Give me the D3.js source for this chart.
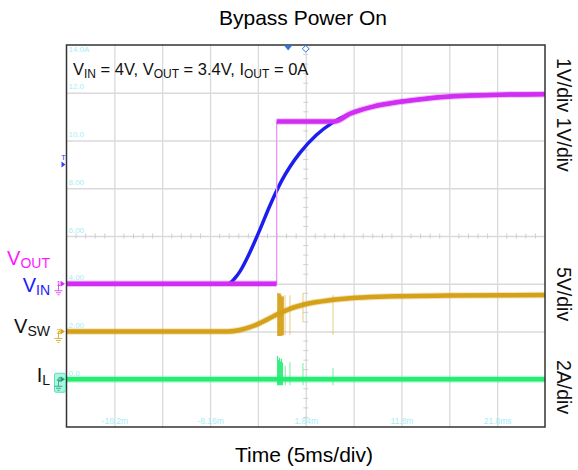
<!DOCTYPE html>
<html>
<head>
<meta charset="utf-8">
<script src="https://cdn.jsdelivr.net/npm/d3@7"></script>
<style>
    body { margin: 0; background: #fff; }
    svg { display: block; }
    text { font-family: Arial, "Liberation Sans", sans-serif; }
</style>
</head>
<body>
<div id="scope"></div>
<script>
// time axis: 5 ms/div, screen centre at 1.84 ms
var timeTicks = [-18.16, -8.16, 1.84, 11.84, 21.84];
var timeTickLabels = ['-18.2m', '-8.16m', '1.84m', '11.8m', '21.8ms'];
// ch4 (2A/div) scale printed on the gridlines
var ampTicks = [0, 2, 4, 6, 8, 10, 12, 14];
var ampTickLabels = ['0.0', '2.00', '4.00', '6.00', '8.00', '10.0', '12.0', '14.0A'];

// VIN, 1V/div
var vinTime = [-23.16, -6.28, -5.55, -5.03, -3.99, -2.94, -1.90, -0.67, 0.19, 1.23, 2.98, 4.69, 6.46, 8.87, 11.69, 14.1, 16.9, 22.1, 26.84];
var vinVolts = [0, 0, 0.12, 0.26, 0.66, 1.14, 1.64, 2.16, 2.45, 2.74, 3.12, 3.38, 3.56, 3.71, 3.81, 3.87, 3.92, 3.96, 3.97];

// VOUT, 1V/div (the step at -1.2 ms is drawn thin)
var voutTime = [-23.16, -1.2, -1.2, 4.9, 6.46, 8.87, 11.69, 14.1, 16.9, 22.1, 26.84];
var voutVolts = [0, 0, 3.4, 3.4, 3.56, 3.71, 3.81, 3.87, 3.92, 3.96, 3.97];

// VSW, 5V/div
var vswTime = [-23.16, -6.28, -5.03, -3.99, -3.12, -2.10, -1.03, 0.19, 1.58, 3.33, 6.46, 9.60, 11.69, 16.9, 26.84];
var vswVolts = [0, 0, 0.16, 0.45, 0.80, 1.30, 1.85, 2.38, 2.80, 3.13, 3.48, 3.64, 3.69, 3.76, 3.82];
var vswSpikeTime = [-1.06, -0.95, -0.85, -0.74, -0.64, -0.53, -0.32, 0.19, 1.55, 4.69];
var vswSpikeLow = [-0.47, -0.47, -0.45, -0.47, -0.42, -0.40, -0.37, -0.37, 0.99, -0.37];
var vswSpikeHigh = [4.03, 3.9, 4.0, 3.8, 3.6, 3.7, 3.82, 3.8, 4.03, 3.82];

// IL, 2A/div
var ilTime = [-23.16, 26.84];
var ilAmps = [0, 0];
var ilSpikeTime = [-1.1, -1.0, -0.9, -0.8, -0.7, -0.6, -0.3, 0.19, 1.55, 4.69];
var ilSpikeHigh = [0.97, 0.8, 0.9, 0.75, 0.85, 0.7, 0.55, 0.72, 0.68, 0.47];

var margin = {top: 45, right: 33, bottom: 43, left: 66.5};

var svg = d3.select('#scope')
    .append('svg')
    .attr('width', 578)
    .attr('height', 470);

var width = +svg.attr('width') - margin.left - margin.right,
    height = +svg.attr('height') - margin.top - margin.bottom;

var g = svg.append('g')
    .attr('transform', 'translate(' + margin.left + ',' + margin.top + ')');

var x = d3.scaleLinear().domain([-23.16, 26.84]).range([0, width]);
var xDiv = d3.scaleLinear().domain([0, 10]).range([0, width]);
var yDiv = d3.scaleLinear().domain([0, 8]).range([height, 0]);
// channel scales, ground position in divisions from the bottom
var yVolt1 = d3.scaleLinear().domain([-3, 5]).range([height, 0]);
var yVolt5 = d3.scaleLinear().domain([-10, 30]).range([height, 0]);
var yAmp = d3.scaleLinear().domain([-2, 14]).range([height, 0]);

var gridColor = '#dadada';

// grid
g.append('g')
    .attr('class', 'grid grid-x')
    .attr('transform', 'translate(0,' + height + ')')
    .call(d3.axisBottom(xDiv).tickValues(d3.range(1, 10)).tickSize(-height).tickFormat(''));
g.append('g')
    .attr('class', 'grid grid-y')
    .call(d3.axisLeft(yDiv).tickValues(d3.range(1, 8)).tickSize(-width).tickFormat(''));
g.selectAll('.grid .domain').remove();
g.selectAll('.grid line').attr('stroke', gridColor).attr('stroke-width', 1.3);

// minor ticks on the centre lines
var minor = g.append('g').attr('stroke', '#cfcfcf').attr('stroke-width', 1);
minor.selectAll('.mx')
    .data(d3.range(1, 50).filter(function (d) { return d % 5; }))
    .enter().append('line')
    .attr('x1', function (d) { return xDiv(d / 5); })
    .attr('x2', function (d) { return xDiv(d / 5); })
    .attr('y1', yDiv(4) - 2.5)
    .attr('y2', yDiv(4) + 2.5);
minor.selectAll('.my')
    .data(d3.range(1, 40).filter(function (d) { return d % 5; }))
    .enter().append('line')
    .attr('y1', function (d) { return yDiv(d / 5); })
    .attr('y2', function (d) { return yDiv(d / 5); })
    .attr('x1', xDiv(5) - 2.5)
    .attr('x2', xDiv(5) + 2.5);

// cyan scope readouts
var readout = '#a6eef6';
var tAxis = g.append('g')
    .attr('class', 'axis axis-x')
    .attr('transform', 'translate(0,' + height + ')')
    .call(d3.axisBottom(x).tickValues(timeTicks).tickSize(0).tickFormat(function (d, i) {
        return timeTickLabels[i];
    }));
tAxis.select('.domain').remove();
tAxis.selectAll('text')
    .attr('y', -3)
    .attr('dy', 0)
    .attr('fill', readout)
    .attr('font-family', '"DejaVu Sans Mono", monospace')
    .attr('font-size', 8.5);

var aAxis = g.append('g')
    .attr('class', 'axis axis-y')
    .call(d3.axisRight(yAmp).tickValues(ampTicks).tickSize(0).tickFormat(function (d, i) {
        return ampTickLabels[i];
    }));
aAxis.select('.domain').remove();
aAxis.selectAll('text')
    .attr('x', 2)
    .attr('y', function (d) { return d === 14 ? 6 : -4; })
    .attr('dy', 0)
    .attr('text-anchor', 'start')
    .attr('fill', readout)
    .attr('font-family', '"DejaVu Sans Mono", monospace')
    .attr('font-size', 8);

// traces
function pts(t, v) {
    return t.map(function (d, i) { return [d, v[i]]; });
}

var vin = pts(vinTime, vinVolts);
var vout = pts(voutTime, voutVolts);
var vsw = pts(vswTime, vswVolts);
var il = pts(ilTime, ilAmps);

var lineVin = d3.line().curve(d3.curveMonotoneX)
    .x(function (d) { return x(d[0]); })
    .y(function (d) { return yVolt1(d[1]); });
var lineVsw = d3.line().curve(d3.curveMonotoneX)
    .x(function (d) { return x(d[0]); })
    .y(function (d) { return yVolt5(d[1]); });
var lineIl = d3.line()
    .x(function (d) { return x(d[0]); })
    .y(function (d) { return yAmp(d[1]); });

// IL (faint halo stands in for the noise band)
g.append('path').datum(il)
    .attr('d', lineIl)
    .attr('fill', 'none')
    .attr('stroke', '#25ec73')
    .attr('stroke-opacity', 0.3)
    .attr('stroke-width', 7);
g.append('path').datum(il)
    .attr('d', lineIl)
    .attr('fill', 'none')
    .attr('stroke', '#25ec73')
    .attr('stroke-width', 4.5);
g.append('g').selectAll('line')
    .data(ilSpikeTime)
    .enter().append('line')
    .attr('x1', function (d) { return x(d); })
    .attr('x2', function (d) { return x(d); })
    .attr('y1', yAmp(-0.25))
    .attr('y2', function (d, i) { return yAmp(ilSpikeHigh[i]); })
    .attr('stroke', '#25ec73')
    .attr('stroke-opacity', function (d, i) { return i < 6 ? 0.9 : 0.55; })
    .attr('stroke-width', 1.2);

// VSW
g.append('path').datum(vsw)
    .attr('d', lineVsw)
    .attr('fill', 'none')
    .attr('stroke', '#d5a119')
    .attr('stroke-opacity', 0.3)
    .attr('stroke-width', 6.5);
g.append('path').datum(vsw)
    .attr('d', lineVsw)
    .attr('fill', 'none')
    .attr('stroke', '#d5a119')
    .attr('stroke-width', 4.5);
g.append('g').selectAll('line')
    .data(vswSpikeTime)
    .enter().append('line')
    .attr('x1', function (d) { return x(d); })
    .attr('x2', function (d) { return x(d); })
    .attr('y1', function (d, i) { return yVolt5(vswSpikeLow[i]); })
    .attr('y2', function (d, i) { return yVolt5(vswSpikeHigh[i]); })
    .attr('stroke', '#d5a119')
    .attr('stroke-opacity', function (d, i) { return i < 6 ? 0.85 : 0.45; })
    .attr('stroke-width', function (d, i) { return i < 6 ? 1.8 : 1.2; });

// VIN
g.append('path').datum(vin)
    .attr('d', lineVin)
    .attr('fill', 'none')
    .attr('stroke', '#1d1df0')
    .attr('stroke-width', 3.5);

// VOUT: split at the step, thick segments + thin fast edge
var voutSegs = [[vout[0]]];
vout.slice(1).forEach(function (p, i) {
    if (p[0] === vout[i][0]) {
        g.append('line')
            .attr('x1', x(p[0])).attr('x2', x(p[0]))
            .attr('y1', yVolt1(vout[i][1])).attr('y2', yVolt1(p[1]))
            .attr('stroke', '#e89af8')
            .attr('stroke-width', 1.4);
        voutSegs.push([p]);
    } else {
        voutSegs[voutSegs.length - 1].push(p);
    }
});
var lineVout = d3.line().curve(d3.curveMonotoneX)
    .x(function (d) { return x(d[0]); })
    .y(function (d) { return yVolt1(d[1]); });
g.selectAll('.vout-halo')
    .data(voutSegs)
    .enter().append('path')
    .attr('class', 'vout-halo')
    .attr('d', lineVout)
    .attr('fill', 'none')
    .attr('stroke', '#d22ef3')
    .attr('stroke-opacity', 0.3)
    .attr('stroke-width', 6.5);
g.selectAll('.vout')
    .data(voutSegs)
    .enter().append('path')
    .attr('class', 'vout')
    .attr('d', lineVout)
    .attr('fill', 'none')
    .attr('stroke', '#d22ef3')
    .attr('stroke-width', 4.5);

// frame
g.append('rect')
    .attr('width', width)
    .attr('height', height)
    .attr('fill', 'none')
    .attr('stroke', '#333')
    .attr('stroke-width', 1.5);

// trigger position markers
g.append('path')
    .attr('d', 'M' + (x(0) - 4) + ',0.5 L' + (x(0) + 4) + ',0.5 L' + x(0) + ',5.5 Z')
    .attr('fill', '#2a78e0');
g.append('path')
    .attr('d', 'M' + x(1.84) + ',0.5 L' + (x(1.84) + 3.5) + ',3.8 L' + x(1.84) + ',7 L' + (x(1.84) - 3.5) + ',3.8 Z')
    .attr('fill', '#fff')
    .attr('stroke', '#2a78e0')
    .attr('stroke-width', 1);

// trigger level
var trig = yVolt1(2.5);
g.append('text')
    .attr('x', -3)
    .attr('y', trig - 4)
    .attr('text-anchor', 'middle')
    .attr('font-size', 8)
    .attr('fill', '#3344ee')
    .text('T');
g.append('path')
    .attr('d', 'M-5,' + (trig - 3) + ' L-1,' + trig + ' L-5,' + (trig + 3) + ' Z')
    .attr('fill', '#3344ee');

// channel ground markers
function groundMark(y, label, color, boxed) {
    var m = g.append('g').attr('transform', 'translate(0,' + y + ')');
    if (boxed) {
        m.append('rect')
            .attr('x', -12).attr('y', -6)
            .attr('width', 11).attr('height', 19)
            .attr('rx', 1.5)
            .attr('fill', '#aaf7e0')
            .attr('stroke', '#3fd6b0')
            .attr('stroke-width', 0.8);
    }
    m.append('text')
        .attr('x', -10).attr('y', 2.5)
        .attr('font-size', 8)
        .attr('fill', color)
        .text(label);
    m.append('path')
        .attr('d', 'M-6,-3 L-1.5,0 L-6,3 Z')
        .attr('fill', color);
    m.append('path')
        .attr('d', 'M-8,0 L-8,7 M-12,7 L-4,7 M-10.5,9 L-5.5,9 M-9,11 L-7,11')
        .attr('fill', 'none')
        .attr('stroke', color)
        .attr('stroke-width', 0.8);
}
groundMark(yVolt1(0), '1', '#d22ef3', false);
groundMark(yVolt5(0), '3', '#d5a119', false);
groundMark(yAmp(0), '4', '#2a9a7a', true);

// titles
svg.append('text')
    .attr('x', 303)
    .attr('y', 25)
    .attr('text-anchor', 'middle')
    .attr('font-size', 21)
    .text('Bypass Power On');

svg.append('text')
    .attr('x', 304)
    .attr('y', 462)
    .attr('text-anchor', 'middle')
    .attr('font-size', 21)
    .text('Time (5ms/div)');

// condition note with subscripts
function subText(sel, parts, size, subSize) {
    parts.forEach(function (p) {
        sel.append('tspan')
            .attr('font-size', p[1] ? subSize : size)
            .attr('dy', p[1] ? 3 : (p[2] ? -3 : 0))
            .text(p[0]);
    });
}
var note = svg.append('text')
    .attr('x', 73)
    .attr('y', 75)
    .attr('fill', '#111');
subText(note, [['V'], ['IN', 1], [' = 4V, V', 0, 1], ['OUT', 1], [' = 3.4V, I', 0, 1], ['OUT', 1], [' = 0A', 0, 1]], 16.5, 12);

// channel names on the left
var names = [
    {y: yVolt1(0) + margin.top - 19, main: 'V', sub: 'OUT', color: '#ff19ff'},
    {y: yVolt1(0) + margin.top + 8, main: 'V', sub: 'IN', color: '#1a1aff'},
    {y: yVolt5(0) + margin.top + 1.5, main: 'V', sub: 'SW', color: '#111'},
    {y: yAmp(0) + margin.top + 2.5, main: 'I', sub: 'L', color: '#111'}
];
names.forEach(function (n) {
    var t = svg.append('text')
        .attr('x', 50)
        .attr('y', n.y)
        .attr('text-anchor', 'end')
        .attr('fill', n.color);
    subText(t, [[n.main], [n.sub, 1]], 20, 14);
});

// scale notes on the right
[['1V/div 1V/div', 58], ['5V/div', 267], ['2A/div', 360]].forEach(function (d) {
    svg.append('text')
        .attr('transform', 'translate(557,' + d[1] + ') rotate(90)')
        .attr('font-size', 19.5)
        .attr('fill', '#111')
        .text(d[0]);
});
</script>
</body>
</html>
